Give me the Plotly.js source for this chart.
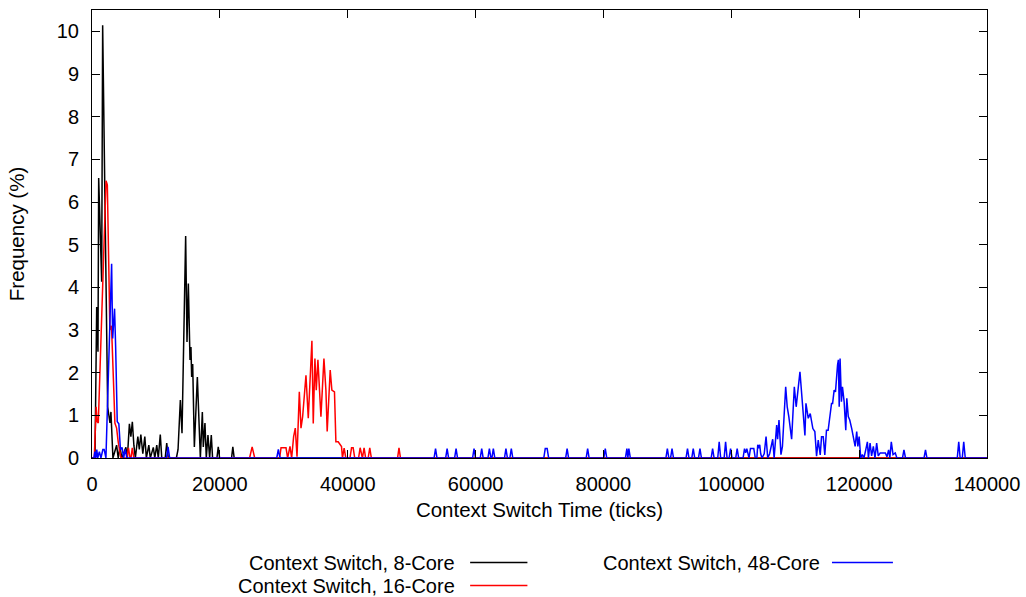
<!DOCTYPE html>
<html>
<head>
<meta charset="utf-8">
<script src="https://cdn.plot.ly/plotly-3.0.1.min.js"></script>
<style>
  html, body { margin: 0; padding: 0; background: #fff; }
  #chart { width: 1026px; height: 597px; }
</style>
</head>
<body>
<div id="chart"></div>
<script>
// Histogram of context-switch latency (ticks) per machine size, in percent of samples.
const seriesNames = ['Context Switch, 8-Core', 'Context Switch, 16-Core', 'Context Switch, 48-Core'];
const seriesColors = ['#000000', '#ff0000', '#0000ff'];

const core8Ticks = [0, 468, 733, 935, 1045, 1512, 1668, 2448, 2806, 2962, 3274, 3850, 4100, 4365, 4680,
  5300, 5530, 5850, 6080, 6310, 6550, 6780, 7170, 7400, 7640, 7950, 8260, 8500, 8890, 9120, 9590, 9820,
  10130, 10370, 10680, 10910, 11450, 11690, 11930, 13200, 13460, 13820, 14080, 14650, 14860, 15070,
  15330, 15480, 15590, 15750, 16010, 16480, 16950, 17260, 17410, 17670, 17880, 18140, 18400, 18660,
  18860, 19540, 19750, 19960, 21830, 22030, 22240, 140000];
const core8Freq = [0, 0, 3.54, 2.49, 6.56, 4.13, 10.14, 1.2, 0.82, 1.08, 0, 0.3, 0, 0.25, 0,
  0.25, 0, 0.8, 0.5, 0.85, 0.3, 0, 0.5, 0.2, 0.55, 0.1, 0.5, 0, 0.3, 0, 0.25, 0,
  0.3, 0, 0.55, 0, 0, 0.35, 0, 0, 0.2, 1.36, 0.58, 5.2, 2.72, 4.09,
  2.3, 2.6, 1.9, 2.2, 0.26, 1.9, 0, 1.08, 0.26, 0.82, 0, 0.54, 0, 0.54,
  0, 0, 0.26, 0, 0, 0.26, 0, 0];

const core16Ticks = [0, 360, 650, 800, 985, 2200, 2400, 2800, 3050, 3210, 3430, 3580, 3850, 4100, 4520,
  5450, 5700, 5950, 6100, 6300, 6550, 24650, 25050, 25450, 29350, 29570, 30350, 30600, 30970, 31230,
  31540, 31800, 32070, 32430, 32690, 32950, 33470, 33830, 34400, 34610, 34870, 35080, 35340, 35810,
  36280, 36590, 36790, 37260, 37520, 37930, 38150, 38510, 39030, 39180, 39440, 39700, 40350, 40600,
  40850, 41100, 41700, 41940, 42200, 42300, 42560, 42800, 43200, 43450, 43700, 47800, 48020, 48250, 140000];
const core16Freq = [0, 0, 1.2, 0.85, 0.82, 6.5, 6.4, 3.0, 3.1, 2.57, 1.5, 0.82, 0.7, 0.38, 0,
  0, 0.24, 0, 0, 0.24, 0, 0, 0.26, 0, 0, 0.24, 0.24, 0, 0.27, 0,
  0.5, 0.7, 0.03, 1.55, 0.7, 0.97, 1.94, 0.93, 2.75, 0.81, 2.33, 1.59, 2.3, 0.97,
  2.33, 1.59, 0.62, 2.06, 1.59, 1.55, 0.38, 0.38, 0.27, 0, 0.23, 0, 0, 0.24,
  0.24, 0, 0, 0.24, 0, 0, 0.24, 0, 0, 0.24, 0, 0, 0.24, 0, 0];

const core48Ticks = [0, 300, 450, 600, 750, 900, 1150, 1400, 1700, 1900, 2180, 2500, 3070, 3230, 3530,
  3700, 3950, 4200, 4450, 4700, 4950, 5200, 5450, 11650, 11900, 12150, 28900, 29150, 29400,
  53510, 53740, 53970, 55320, 55550, 55780, 56720, 56950, 57180, 59530, 59760, 59990,
  60730, 60960, 61190, 61930, 62160, 62400, 62550, 62780, 63010, 64520, 64750, 64980,
  65360, 65590, 65820, 70670, 70900, 71200, 71430, 74090, 74320, 74550, 77300, 77530, 77760,
  80060, 80290, 80520, 83440, 83670, 83820, 83980, 84210, 89770, 90000, 90230, 90500, 90730, 90960,
  92920, 93150, 93380, 93820, 94050, 94280, 94870, 95100, 95330, 96850, 97080, 97310,
  97880, 98110, 98340, 98880, 99110, 99340, 99660, 99890, 100120, 100690, 100920, 101150,
  101840, 102070, 102250, 102430, 102660, 102770, 103000, 103520, 103750, 104000,
  104140, 104300, 104450, 104600, 104800, 105150, 105440, 105700, 106000, 106480, 106700, 107100,
  107250, 107460, 107770, 108000, 108510, 108750, 109000, 109440, 109860, 110150, 110740, 111160,
  111520, 111680, 112040, 112350, 112760, 113070, 113340, 113600, 113910, 114120, 114380, 114630,
  114890, 115150, 115470, 115680, 115850, 116090, 116300, 116500, 116620, 116750, 116880, 117020,
  117230, 117390, 117650, 117910, 118070, 118300, 118530, 118840, 119110, 119370, 119620, 119800,
  120000, 120250, 120500, 120750, 121030, 121290, 121450, 121710, 121950, 122220, 122480, 122740,
  122990, 123300, 123700, 124100, 124350, 124610, 124800, 125030, 125300, 125650, 125900,
  126780, 127010, 127250, 130150, 130380, 130600, 135350, 135580, 135800, 136130, 136360, 136600, 140000];
const core48Freq = [0, 0, 0.15, 0, 0.2, 0, 0.15, 0, 0.2, 0.2, 0, 1.6, 4.55, 2.8, 3.5,
  2.6, 0.85, 0.8, 0.2, 0.25, 0, 0.2, 0, 0, 0.26, 0, 0, 0.2, 0,
  0, 0.22, 0, 0, 0.22, 0, 0, 0.22, 0, 0, 0.22, 0,
  0, 0.22, 0, 0, 0.22, 0, 0, 0.22, 0, 0, 0.22, 0,
  0, 0.22, 0, 0, 0.22, 0.22, 0, 0, 0.22, 0, 0, 0.22, 0,
  0, 0.22, 0, 0, 0.22, 0, 0.22, 0, 0, 0.22, 0, 0, 0.22, 0,
  0, 0.22, 0, 0, 0.22, 0, 0, 0.22, 0, 0, 0.22, 0,
  0, 0.38, 0, 0, 0.38, 0, 0, 0.22, 0, 0, 0.22, 0,
  0, 0.22, 0.12, 0.22, 0, 0, 0.22, 0.22, 0, 0,
  0.31, 0.23, 0.31, 0.1, 0, 0.1, 0.5, 0, 0.1, 0.44, 0, 0.77,
  0.44, 0.89, 0.08, 0.27, 1.67, 1.2, 0.97, 0.44, 1.67, 1.2, 2.02, 1.3,
  0.53, 1.28, 0.93, 1.04, 0.69, 0.62, 0.04, 0.42, 0.07, 0.5, 0.5, 0.07,
  0.65, 0.65, 1.0, 1.28, 1.28, 1.59, 1.55, 2.1, 2.18, 2.3, 1.2, 2.33,
  1.32, 1.67, 1.32, 0.65, 1.4, 0.97, 0.89, 0.69, 0.5, 0.27, 0.62, 0.27,
  0.5, 0, 0.08, 0, 0.19, 0.38, 0, 0.35, 0.05, 0.27, 0, 0.35,
  0.05, 0.12, 0.12, 0.12, 0.03, 0.19, 0, 0.38, 0.08, 0.12, 0,
  0, 0.19, 0, 0, 0.19, 0, 0, 0.38, 0, 0, 0.38, 0, 0];

const xTickValues = [0, 20000, 40000, 60000, 80000, 100000, 120000, 140000];
const yTickValues = [0, 1, 2, 3, 4, 5, 6, 7, 8, 9, 10];

const seriesX = [core8Ticks, core16Ticks, core48Ticks];
const seriesY = [core8Freq, core16Freq, core48Freq];

const FONT = 'Liberation Sans, Arial, Helvetica, sans-serif';
const TEXT_SIZE = 20.5;
const KEY_SIZE = 20;

const traces = seriesNames.map((name, i) => ({
  type: 'scatter',
  mode: 'lines',
  name: name,
  x: seriesX[i],
  y: seriesY[i],
  line: { color: seriesColors[i], width: 1.5 },
  showlegend: false,
  hoverinfo: 'skip'
}));

// Key below the plot: label text on the left, line sample on the right.
const keyRows = [
  { textRight: 0.408, lineFrom: 0.4225, lineTo: 0.4865, y: -0.2333 },
  { textRight: 0.408, lineFrom: 0.4225, lineTo: 0.4865, y: -0.2846 },
  { textRight: 0.8155, lineFrom: 0.8268, lineTo: 0.8949, y: -0.2333 }
];

const annotations = keyRows.map((k, i) => ({
  xref: 'paper', yref: 'paper',
  x: k.textRight, y: k.y,
  xanchor: 'right', yanchor: 'middle',
  text: seriesNames[i],
  showarrow: false,
  font: { family: FONT, size: KEY_SIZE, color: '#000' }
}));

const shapes = keyRows.map((k, i) => ({
  type: 'line', xref: 'paper', yref: 'paper',
  x0: k.lineFrom, x1: k.lineTo, y0: k.y, y1: k.y,
  line: { color: seriesColors[i], width: 1.5 }
}));

const axisCommon = {
  showgrid: false,
  zeroline: false,
  showline: true,
  linecolor: '#000',
  linewidth: 1,
  mirror: 'ticks',
  ticks: 'inside',
  ticklen: 8,
  tickwidth: 1,
  tickcolor: '#000',
  tickfont: { family: FONT, size: 20, color: '#000' }
};

const layout = {
  width: 1026,
  height: 597,
  margin: { l: 92, r: 39, t: 10, b: 139 },
  paper_bgcolor: '#fff',
  plot_bgcolor: '#fff',
  font: { family: FONT, size: 20, color: '#000' },
  xaxis: Object.assign({}, axisCommon, {
    range: [0, 140000],
    tickmode: 'array',
    tickvals: xTickValues,
    ticktext: xTickValues.map(String),
    ticklabelstandoff: 8,
    title: { text: 'Context Switch Time (ticks)', font: { family: FONT, size: TEXT_SIZE, color: '#000' }, standoff: 8 }
  }),
  yaxis: Object.assign({}, axisCommon, {
    range: [0, 10.5],
    tickmode: 'array',
    tickvals: yTickValues,
    ticktext: yTickValues.map(String),
    ticklabelstandoff: 8,
    title: { text: 'Frequency (%)', font: { family: FONT, size: TEXT_SIZE, color: '#000' }, standoff: 26 }
  }),
  annotations: annotations,
  shapes: shapes,
  showlegend: false
};

Plotly.newPlot('chart', traces, layout, { staticPlot: true, displayModeBar: false });
</script>
</body>
</html>
